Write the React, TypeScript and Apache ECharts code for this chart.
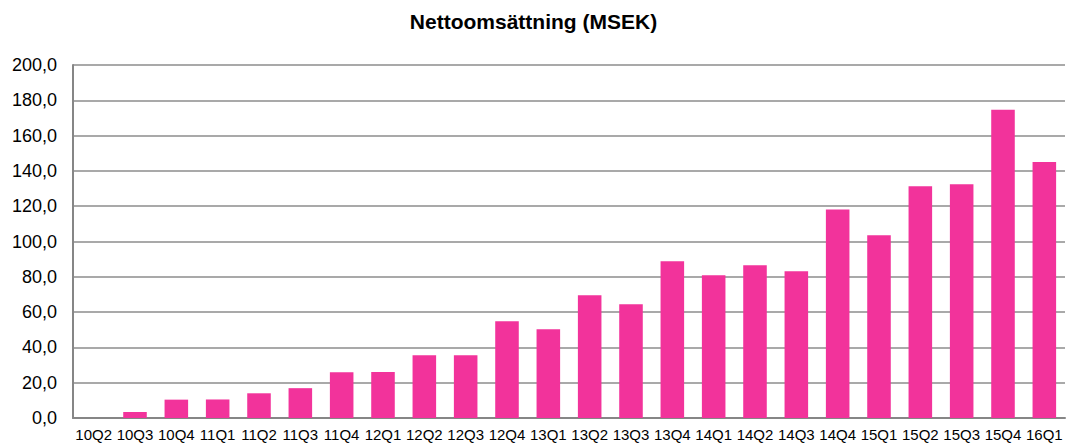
import React, { useEffect, useRef } from "react";
import * as echarts from "echarts";

const categories = [
  "10Q2", "10Q3", "10Q4", "11Q1", "11Q2", "11Q3", "11Q4", "12Q1",
  "12Q2", "12Q3", "12Q4", "13Q1", "13Q2", "13Q3", "13Q4", "14Q1",
  "14Q2", "14Q3", "14Q4", "15Q1", "15Q2", "15Q3", "15Q4", "16Q1",
];
const netSales = [
  0, 3.4, 10.4, 10.5, 14.0, 16.9, 25.9, 26.0,
  35.6, 35.6, 54.8, 50.3, 69.5, 64.4, 88.8, 80.9,
  86.5, 83.1, 118.2, 103.5, 131.3, 132.4, 174.7, 145.0,
];
const titleText = "Nettoomsättning (MSEK)";

export default function App() {
  const ref = useRef<HTMLDivElement>(null);
  useEffect(() => {
    if (!ref.current) return;
    const chart = echarts.init(ref.current, undefined, { renderer: "svg" });
    chart.setOption({
      animation: false,
      backgroundColor: "#ffffff",
      title: {
        text: titleText,
        left: "center",
        top: 6,
        textStyle: {
          fontFamily: "Liberation Sans, Arial, sans-serif",
          fontSize: 21,
          fontWeight: "bold",
          color: "#000",
        },
      },
      grid: { left: 73, right: 2, top: 65, bottom: 27 },
      xAxis: {
        type: "category",
        data: categories,
        axisLine: { lineStyle: { color: "#868686", width: 2 } },
        axisTick: { show: false },
        axisLabel: {
          interval: 0,
          margin: 9,
          fontFamily: "Liberation Sans, Arial, sans-serif",
          fontSize: 15,
          color: "#000",
        },
      },
      yAxis: {
        type: "value",
        min: 0,
        max: 200,
        interval: 20,
        axisLine: { show: true, lineStyle: { color: "#868686", width: 2 } },
        axisTick: { show: false },
        splitLine: { lineStyle: { color: "#8c8c8c", width: 1.5 } },
        axisLabel: {
          margin: 16,
          fontFamily: "Liberation Sans, Arial, sans-serif",
          fontSize: 18,
          color: "#000",
          formatter: (v: number) => v.toFixed(1).replace(".", ","),
        },
      },
      series: [
        {
          type: "bar",
          data: netSales,
          barWidth: "57%",
          itemStyle: { color: "#F2339B" },
        },
      ],
    });
    return () => chart.dispose();
  }, []);
  return (
    <div
      ref={ref}
      style={{ position: "fixed", left: 0, top: 0, width: 1067, height: 445 }}
    />
  );
}
